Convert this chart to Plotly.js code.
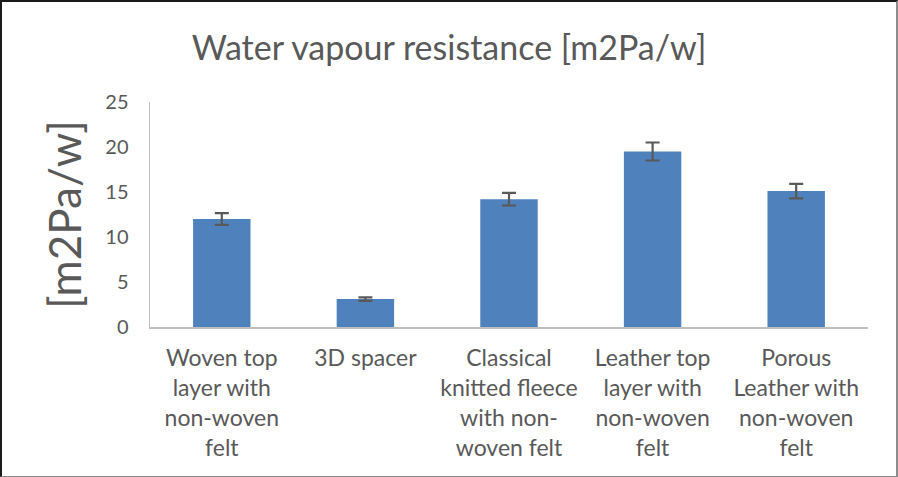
<!DOCTYPE html>
<html><head><meta charset="utf-8">
<script src="https://cdn.plot.ly/plotly-3.0.1.min.js"></script>
<style>
html,body{margin:0;padding:0;background:#fff;}
#frame{position:absolute;left:0;top:0;width:898px;height:477px;box-sizing:border-box;border-top:2px solid #1a1a1a;border-left:2px solid #1a1a1a;border-right:2px solid #8c8c8c;border-bottom:1px solid #8c8c8c;}
#chart{position:absolute;left:0;top:0;width:898px;height:477px;}
</style></head>
<body>
<div id="chart"></div>
<div id="frame"></div>
<script>
const categories = [
  "Woven top<br>layer with<br>non-woven<br>felt",
  "3D spacer",
  "Classical<br>knitted fleece<br>with non-<br>woven felt",
  "Leather top<br>layer with<br>non-woven<br>felt",
  "Porous<br>Leather with<br>non-woven<br>felt"
];
const values = [12.0, 3.1, 14.2, 19.5, 15.1];
const errors = [0.65, 0.2, 0.7, 1.0, 0.8];
const yTicks = [0, 5, 10, 15, 20, 25];

const font = "Lato, 'Open Sans', sans-serif";
const grey = "#595959";

Plotly.newPlot("chart", [{
  type: "bar",
  x: categories,
  y: values,
  marker: {color: "#4f81bd"},
  error_y: {type: "data", array: errors, visible: true, color: "#595959", thickness: 2.2, width: 7},
  hoverinfo: "none"
}], {
  width: 898, height: 477,
  margin: {l: 150, r: 30, t: 102, b: 150},
  paper_bgcolor: "#fff", plot_bgcolor: "#fff",
  bargap: 0.6,
  showlegend: false,
  title: {text: "Water vapour resistance [m2Pa/w]", font: {family: font, size: 34, color: grey}, x: 0.5, xanchor: "center", xref: "container", y: 0.9, yanchor: "middle", yref: "container"},
  xaxis: {
    showgrid: false, zeroline: false, showline: true, linecolor: "#bfbfbf", linewidth: 1.5,
    tickfont: {family: font, size: 23, color: grey}, ticks: "", tickangle: 0, automargin: false,
    ticklabelstandoff: 10
  },
  yaxis: {
    range: [0, 25], tickvals: yTicks, showgrid: false, zeroline: false, showline: true,
    linecolor: "#bfbfbf", linewidth: 1.5, ticks: "", ticklabelstandoff: 16,
    tickfont: {family: font, size: 20, color: grey}, automargin: false,
    title: {text: "[m2Pa/w]", font: {family: font, size: 44, color: grey}, standoff: 10}
  }
}, {displayModeBar: false, staticPlot: true});
</script>
</body></html>
